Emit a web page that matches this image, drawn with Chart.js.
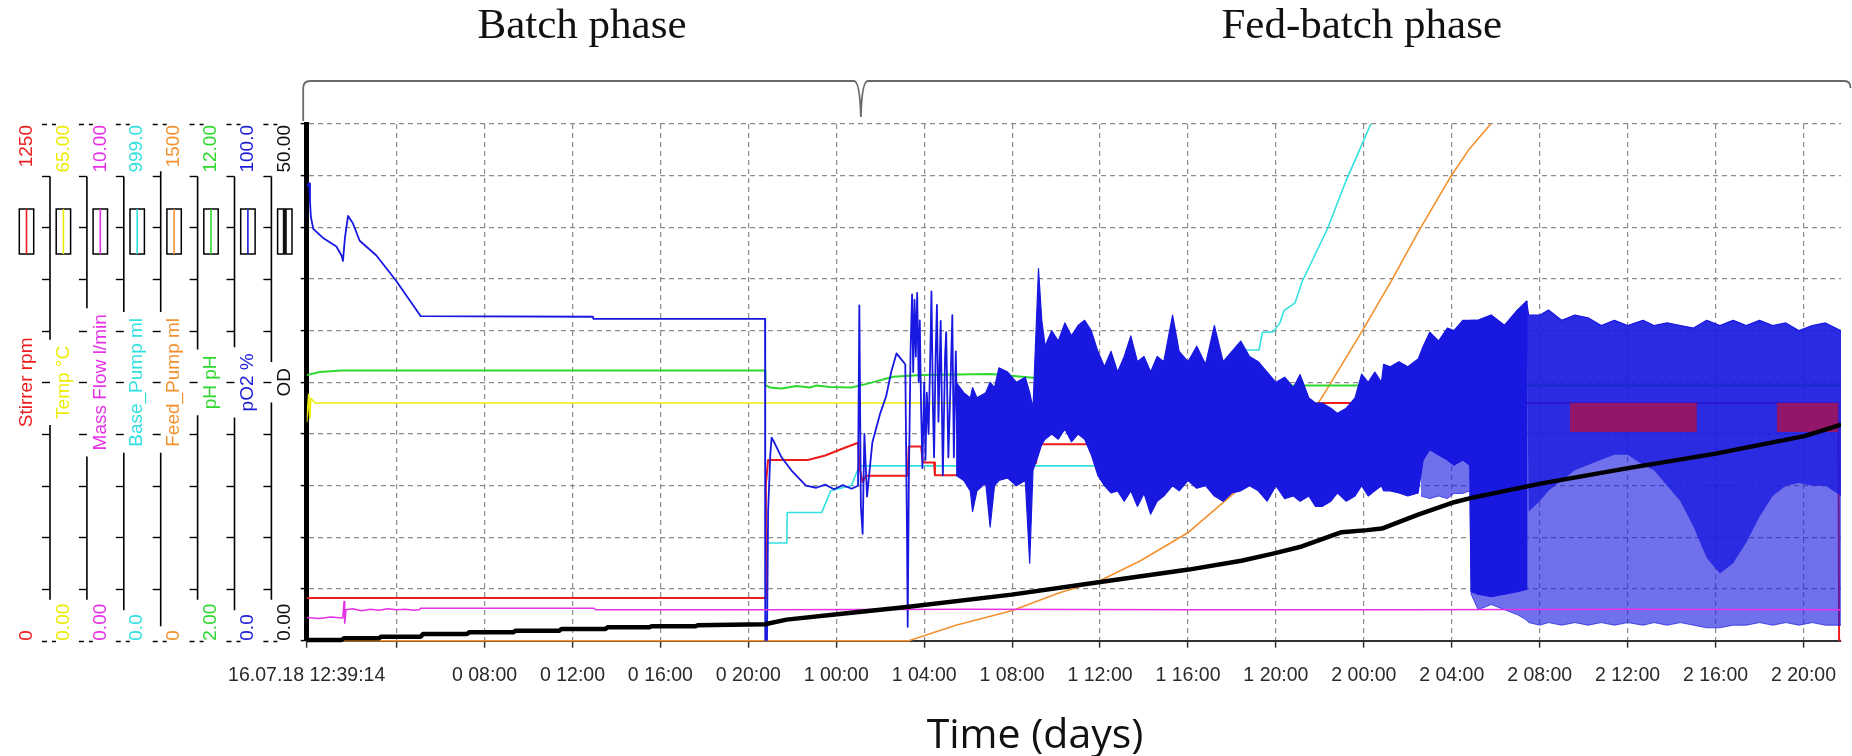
<!DOCTYPE html>
<html><head><meta charset="utf-8">
<script src="https://cdn.jsdelivr.net/npm/chart.js@4.4.1/dist/chart.umd.min.js"></script>
<style>html,body{margin:0;padding:0;background:#fff;overflow:hidden}#wrap{width:1852px;height:756px}</style>
</head><body><div id="wrap"><canvas id="c" width="1852" height="756"></canvas></div>
<script>
// ---------------- data (time in hours from start) ----------------
const xTickValues = [-0.09, 4, 8, 12, 16, 20, 24, 28, 32, 36, 40, 44, 48, 52, 56, 60, 64, 68];
const xTickLabels = ['16.07.18 12:39:14', '', '0 08:00', '0 12:00', '0 16:00', '0 20:00', '1 00:00', '1 04:00',
  '1 08:00', '1 12:00', '1 16:00', '1 20:00', '2 00:00', '2 04:00', '2 08:00', '2 12:00', '2 16:00', '2 20:00'];
const xMin = -0.09, xMax = 69.71;

const axisIds = ['yStir', 'yTemp', 'yFlow', 'yBase', 'yFeed', 'yPH', 'yPO2', 'yOD'];
const axisTitles = ['Stirrer rpm', 'Temp °C', 'Mass Flow l/min', 'Base_Pump ml', 'Feed_Pump ml', 'pH pH', 'pO2 %', 'OD'];
const axisMin = [0, 0, 0, 0, 0, 2, 0, 0];
const axisMax = [1250, 65, 10, 999, 1500, 12, 100, 50];
const axisMinLabels = ['0', '0.00', '0.00', '0.0', '0', '2.00', '0.0', '0.00'];
const axisMaxLabels = ['1250', '65.00', '10.00', '999.0', '1500', '12.00', '100.0', '50.00'];
const axisColors = ['#ee1c1c', '#ecec08', '#e632e6', '#33e0e0', '#f3912e', '#2fd82f', '#1c1cd8', '#111111'];

const phaseNames = ['Batch phase', 'Fed-batch phase'];
const phaseBounds = [-0.09, 25.12, 69.71];

// OD
const odT = [-0.09, 1.5, 1.6, 3.2, 3.3, 5.1, 5.2, 7.2, 7.3, 9.3, 9.4, 11.4, 11.5, 13.5, 13.6, 15.5, 15.6, 17.6, 17.7, 20.76,
  21.74, 24.04, 27.2, 31.98, 36.01, 40.03, 42.43, 43.87, 45.18, 46.99, 48.15, 48.82, 50.47, 52.11, 52.85, 56.03, 60.02, 64.01, 68.04, 69.71];
const odV = [0.07, 0.07, 0.23, 0.23, 0.39, 0.39, 0.65, 0.65, 0.81, 0.81, 0.97, 0.97, 1.13, 1.13, 1.3, 1.3, 1.4, 1.4, 1.5, 1.59,
  2.04, 2.55, 3.26, 4.46, 5.68, 6.88, 7.74, 8.43, 9.12, 10.5, 10.7, 10.85, 12.2, 13.4, 13.8, 15.2, 16.7, 18.1, 19.8, 20.9];

// Mass flow
const flowT = [-0.09, 0.5, 1.0, 1.55, 1.61, 1.64, 1.7, 2.0, 2.4, 2.8, 3.2, 3.6, 4.0, 4.4, 4.8, 5.03, 5.1, 12.95, 13.05, 20.8, 30, 40, 50, 60, 69.71];
const flowV = [0.45, 0.43, 0.46, 0.44, 0.76, 0.34, 0.6, 0.62, 0.58, 0.61, 0.59, 0.62, 0.6, 0.61, 0.59, 0.6, 0.63, 0.63, 0.6, 0.6, 0.61, 0.6, 0.6, 0.61, 0.6];

// Stirrer
const stirT = [-0.09, 20.76, 20.8, 20.9, 22.71, 23.5, 24.3, 25.0, 25.05, 25.2, 25.35, 27.25, 27.3, 27.86, 27.94, 28.45, 28.49,
  30.2, 30.23, 33.09, 33.17, 35.62, 40, 46, 69.59, 69.62, 69.71];
const stirV = [103, 103, 380, 437, 437, 448, 465, 479, 420, 384, 399, 399, 470, 470, 431, 431, 400,
  400, 430, 430, 475, 475, 520, 575, 575, 0, 0];
const stirBandAT = [57.38, 63.15], stirBandAV = [574, 574];
const stirBandBT = [66.78, 69.59], stirBandBV = [574, 574];
const stirBandLow = 505;

// Temp
const tempT = [-0.09, 0.0, 0.05, 0.1, 0.3, 69.71];
const tempV = [27.5, 31.0, 28.0, 30.5, 29.9, 29.9];

// pH
const phT = [-0.09, 0.5, 1.5, 20.76, 20.78, 21.0, 21.51, 22.2, 22.8, 23.1, 23.7, 24.69, 25.48, 26.59, 27.86, 31.03, 32.45, 33.4, 35.0, 69.71];
const phV = [7.14, 7.2, 7.23, 7.23, 6.94, 6.9, 6.88, 6.93, 6.9, 6.94, 6.91, 6.9, 6.98, 7.11, 7.14, 7.16, 7.11, 7.07, 6.94, 6.94];

// Base pump
const baseT = [-0.09, 20.76, 20.8, 21.75, 21.77, 23.34, 23.75, 24.69, 25.0, 25.1, 36.5, 39.0, 41.0, 42.0, 42.43, 42.55, 43.23, 43.39,
  43.87, 44.18, 44.37, 44.87, 45.19, 46.34, 47.17, 48.32, 49.0];
const baseV = [0, 0, 189, 189, 248, 248, 290, 300, 333, 338, 338, 360, 420, 470, 493, 562, 562, 596,
  597, 614, 638, 653, 694, 796, 887, 999, 1080];

// Feed pump
const feedT = [-0.09, 27.3, 29.44, 31.98, 34.19, 36.01, 37.84, 40.03, 42.11, 44.0, 45.0, 46.18, 47.99, 49.31, 50.47, 51.95, 52.77, 53.77, 54.5];
const feedV = [0, 0, 45, 87, 140, 175, 232, 315, 429, 520, 600, 715, 906, 1051, 1186, 1347, 1425, 1500, 1580];

// pO2 trace
const po2T = [-0.09, 0.02, 0.06, 0.1, 0.21, 0.64, 1.26, 1.5, 1.56, 1.65, 1.79, 1.9, 2.01, 2.32, 3.07, 3.97, 5.10, 12.93, 12.95, 20.76,
  20.77, 20.85, 20.9, 21.0, 21.06, 21.19, 21.51, 21.99, 22.62, 23.09, 23.5, 23.9, 24.3, 24.7, 24.99, 25.05, 25.12, 25.2, 25.28, 25.4,
  25.64, 26.0, 26.27, 26.5, 26.74, 26.95, 27.14, 27.22, 27.25, 27.3, 27.38, 27.45, 27.5, 27.56, 27.62, 27.68, 27.75, 27.8, 27.86, 27.92,
  28.0, 28.06, 28.12, 28.2, 28.3, 28.33, 28.4, 28.45, 28.52, 28.58, 28.65, 28.75, 28.85, 28.95, 29.0, 29.1, 29.2, 29.28, 29.35, 29.44, 29.5];
const po2V = [88, 88.5, 85, 82, 79.7, 78, 76.3, 74.5, 73.5, 78, 82.2, 81.5, 80.8, 77.4, 74.6, 69.7, 62.8, 62.7, 62.3, 62.3,
  0, 0, 25, 36, 39.3, 38.3, 35.5, 32.8, 30, 29.6, 30.2, 29.3, 30.1, 29.4, 30, 64.9, 26, 20.7, 40, 27.9,
  38.3, 44, 47.3, 52, 55.6, 54.5, 53.5, 20, 2.7, 30, 56, 67, 52, 66, 55, 67.3, 50, 62, 45, 33.4,
  50, 35, 48, 40, 60, 67.6, 45, 35.5, 55, 65, 42.4, 61.9, 32, 55, 59.7, 35.5, 50, 63, 35.5, 56, 40];

// pO2 dense oscillation envelope (max / min)
const denseT = [29.45, 29.8, 30.1, 30.2, 30.4, 30.8, 31.0, 31.2, 31.4, 31.8, 32.2, 32.6, 32.8, 32.95, 33.2, 33.35, 33.5, 33.8, 34.1, 34.4,
  34.7, 35.0, 35.3, 35.6, 35.9, 36.2, 36.5, 36.8, 37.1, 37.4, 37.7, 38.0, 38.3, 38.6, 38.9, 39.3, 39.6, 40.0, 40.4, 40.8,
  41.2, 41.6, 42.0, 42.4, 42.8, 43.2, 43.6, 44.0, 44.4, 44.8, 45.1, 45.5, 45.8, 46.1, 46.5, 46.8, 47.2, 47.6, 47.9, 48.2,
  48.5, 48.8, 48.9, 49.2, 49.6, 50.0, 50.47, 50.7, 51.0, 51.4, 51.8, 52.1, 52.5, 52.82, 52.88, 53.2, 53.8, 54.4, 55.0, 55.45];
const denseHi = [50, 48, 47, 49, 47, 48, 50, 49, 52.8, 52, 50, 51, 48, 45, 72, 62, 57, 60, 58, 61.5,
  59, 61, 62, 60, 56, 53, 56, 52, 55, 59, 54, 55, 52, 55, 54, 63, 56, 54, 57, 53.5,
  61, 54, 56, 58, 55, 54, 52, 50, 51, 49, 51.5, 47, 46, 46, 45, 44, 45, 47, 51.6, 50,
  52, 50, 53.5, 53, 54, 53, 54.5, 57, 59.7, 58, 60.5, 60, 62, 62, 62, 62, 63, 61, 64, 65.7];
const denseLo = [32, 31, 29, 25, 29, 30.5, 22, 30, 31, 31.5, 30, 31, 15, 33, 36, 38, 39, 40, 39, 41,
  38.5, 40, 39, 36, 32, 30, 28.6, 29, 27, 29, 26, 28.5, 24.5, 27, 28, 30, 29, 31, 29.5, 30,
  28, 27, 28.6, 29, 30, 29, 27, 30, 27.5, 28, 27, 28, 26, 26, 27, 28.6, 27, 28, 30, 28,
  29, 30, 29, 29, 28.6, 28, 28.6, 35, 37, 36, 35, 34, 35, 34, 9.5, 9, 8.5, 9, 9.5, 10];

// pO2 striped oscillation (outer max / outer min / inner core min)
const stripeT = [50.6, 51.0, 51.4, 51.8, 52.1, 52.5, 52.82, 52.88, 53.2, 53.8, 54.4, 55.0, 55.4, 55.5, 56.0, 56.4, 57.0, 57.6, 58.2, 58.8,
  59.4, 60.0, 60.7, 61.2, 61.8, 62.4, 63.0, 63.6, 64.2, 64.8, 65.4, 66.0, 66.6, 67.2, 67.8, 68.4, 69.0, 69.71];
const stripeHi = [35, 37, 36, 35, 34, 35, 34, 62, 62, 63, 61, 64, 65.7, 63, 63, 64, 62, 63, 62.5, 61,
  62, 61, 62, 61, 61.5, 61, 60.5, 62, 61, 62, 61, 62, 61, 61.5, 60, 61, 61.5, 60];
const stripeLo = [28, 27.5, 28, 27.5, 28.5, 28.5, 29, 9, 6, 7, 6, 5, 4, 3.5, 3, 3.5, 3, 3.5, 3, 3.5,
  3, 3.5, 3, 3.5, 3, 3.5, 3, 2.5, 2.5, 3, 3, 3.5, 3, 3.5, 3, 3.5, 3, 3];
const coreLo = [35, 37, 36, 35, 34, 35, 34, 62, 62, 63, 61, 64, 65.7, 25, 27, 29, 31, 33, 34, 35,
  36, 36, 34, 33, 30, 27, 22, 16, 13, 15, 19, 24, 28, 30, 30.5, 30, 30, 28];

// ---------------- chart ----------------
function fontAvailable(name) {
  const c = document.createElement('canvas').getContext('2d');
  const s = '0 08:00 16.07.18 abcdefghijklm';
  c.font = '40px monospace'; const a = c.measureText(s).width;
  c.font = '40px "' + name + '", monospace'; const b = c.measureText(s).width;
  return Math.abs(a - b) > 0.5;
}
const narrow = fontAvailable('Liberation Sans Narrow');
const tickFont = narrow ? { family: '"Liberation Sans Narrow", "Liberation Sans", sans-serif', size: 22 }
                        : { family: '"Liberation Sans", Arial, sans-serif', size: 19.5 };
const tickPad = narrow ? 14 : 16;

const BLUE = '#1818e0';
function ds(label, T, V, axis, color, width, extra) {
  return Object.assign({
    label, data: T.map((t, i) => ({ x: t, y: V[i] })), yAxisID: axis, xAxisID: 'x',
    borderColor: color, backgroundColor: color, borderWidth: width, fill: false, pointRadius: 0
  }, extra || {});
}

const datasets = [
  ds('OD', odT, odV, 'yOD', '#000000', 4.5, { clip: { left: 0, top: 0, right: 0, bottom: 3 } }),
  ds('Mass Flow l/min', flowT, flowV, 'yFlow', axisColors[2], 1.5),
  ds('Stirrer range A', stirBandAT, stirBandAV, 'yStir', 'rgba(165,20,85,0.85)', 1, { fill: { value: stirBandLow }, backgroundColor: 'rgba(165,20,85,0.85)' }),
  ds('Stirrer range B', stirBandBT, stirBandBV, 'yStir', 'rgba(165,20,85,0.85)', 1, { fill: { value: stirBandLow }, backgroundColor: 'rgba(165,20,85,0.85)' }),
  ds('pO2 %', po2T, po2V, 'yPO2', BLUE, 1.8),
  ds('pO2 dense max', denseT, denseHi, 'yPO2', BLUE, 1.2),
  ds('pO2 dense min', denseT, denseLo, 'yPO2', BLUE, 1.2, { fill: '-1', backgroundColor: BLUE }),
  ds('pO2 stripe max', stripeT, stripeHi, 'yPO2', BLUE, 1.2),
  ds('pO2 stripe min', stripeT, stripeLo, 'yPO2', 'rgba(24,24,224,0.7)', 1, { fill: '-1', backgroundColor: 'rgba(24,24,224,0.62)' }),
  ds('pO2 core min', stripeT, coreLo, 'yPO2', 'rgba(0,0,0,0)', 1, { fill: 7, backgroundColor: 'rgba(24,24,224,0.78)' }),
  ds('Stirrer rpm', stirT, stirV, 'yStir', axisColors[0], 2),
  ds('pH', phT, phV, 'yPH', axisColors[5], 2),
  ds('Temp', tempT, tempV, 'yTemp', axisColors[1], 1.6),
  ds('Feed_Pump ml', feedT, feedV, 'yFeed', axisColors[4], 1.6, { clip: { left: 0, top: 0, right: 0, bottom: 2 } }),
  ds('Base_Pump ml', baseT, baseV, 'yBase', axisColors[3], 1.6)
];

const LABEL_FONT = '19px "Liberation Sans", Arial, sans-serif';
function vtext(ctx, txt, x, y, align) {
  ctx.save(); ctx.translate(x, y); ctx.rotate(-Math.PI / 2);
  ctx.textAlign = align; ctx.textBaseline = 'middle'; ctx.fillText(txt, 0, 0); ctx.restore();
}

const leftPanel = {
  id: 'leftPanel',
  afterDraw(chart) {
    const ctx = chart.ctx, top = chart.chartArea.top, bottom = chart.chartArea.bottom, mid = (top + bottom) / 2;
    ctx.save();
    ctx.font = LABEL_FONT;
    for (let i = 0; i < axisIds.length; i++) {
      const lx = 26.5 + i * 36.9, ax = lx + 23.5;
      const sc = chart.scales[axisIds[i]];
      if (i < axisIds.length - 1) {
        const n = i + 1;
        const wTop = ctx.measureText(axisMaxLabels[n]).width;
        const wT = ctx.measureText(axisTitles[n]).width;
        const wB = ctx.measureText(axisMinLabels[n]).width;
        ctx.strokeStyle = '#000'; ctx.lineWidth = 1.6; ctx.setLineDash([]);
        ctx.beginPath();
        ctx.moveTo(ax, top + wTop + 5); ctx.lineTo(ax, mid - wT / 2 - 6);
        ctx.moveTo(ax, mid + wT / 2 + 6); ctx.lineTo(ax, bottom - wB - 4);
        ctx.stroke();
        ctx.lineWidth = 1.4;
        for (let k = 0; k <= 10; k++) {
          const y = Math.round(sc.getPixelForValue(axisMin[i] + k * (axisMax[i] - axisMin[i]) / 10)) + 0.5;
          ctx.beginPath();
          if (k === 0 || k === 10) {
            ctx.moveTo(ax - 8, y); ctx.lineTo(ax - 3, y);
            ctx.moveTo(ax + 2, y); ctx.lineTo(ax + 6, y);
          } else {
            ctx.moveTo(ax - 8, y); ctx.lineTo(ax, y);
          }
          ctx.stroke();
        }
      }
      // legend swatch
      ctx.strokeStyle = '#000'; ctx.lineWidth = 1.5;
      ctx.strokeRect(lx - 7.2, top + 85, 14.4, 45);
      ctx.strokeStyle = axisColors[i]; ctx.lineWidth = i === axisIds.length - 1 ? 4 : 1.6;
      ctx.beginPath(); ctx.moveTo(lx, top + 85); ctx.lineTo(lx, top + 130); ctx.stroke();
      // texts
      ctx.fillStyle = axisColors[i];
      vtext(ctx, axisMaxLabels[i], lx, top + 1, 'right');
      vtext(ctx, axisMinLabels[i], lx, bottom, 'left');
      vtext(ctx, axisTitles[i], lx, mid, 'center');
    }
    ctx.restore();
  }
};

const annot = {
  id: 'annot',
  afterDraw(chart) {
    const ctx = chart.ctx, xs = chart.scales.x;
    ctx.save();
    const yL = 81;
    const xL = xs.getPixelForValue(phaseBounds[0]) - 3.5;
    const xT = xs.getPixelForValue(phaseBounds[1]);
    const xR = chart.width - 1.5;
    ctx.strokeStyle = '#6a6a6a'; ctx.lineWidth = 1.8;
    ctx.beginPath();
    ctx.moveTo(xL, 121); ctx.lineTo(xL, 88); ctx.quadraticCurveTo(xL, yL, xL + 7, yL);
    ctx.lineTo(xT - 7, yL); ctx.quadraticCurveTo(xT - 1, yL, xT, 117);
    ctx.quadraticCurveTo(xT + 1, yL, xT + 7, yL);
    ctx.lineTo(xR - 6, yL); ctx.quadraticCurveTo(xR, yL, xR, 88);
    ctx.stroke();
    ctx.fillStyle = '#111';
    ctx.font = '43px "Liberation Serif", "Times New Roman", serif';
    ctx.textAlign = 'center'; ctx.textBaseline = 'alphabetic';
    ctx.fillText(phaseNames[0], (xL + xT) / 2, 38);
    ctx.fillText(phaseNames[1], (xT + xR) / 2 + 6, 38);
    ctx.font = '41px "Open Sans", "Liberation Sans", sans-serif';
    ctx.fillText('Time (days)', 1035, 748);
    ctx.restore();
  }
};

const scales = {
  x: {
    type: 'linear', position: 'bottom', min: xMin, max: xMax,
    afterBuildTicks: s => { s.ticks = xTickValues.map(v => ({ value: v })); },
    afterFit: s => { s.height = 115.3; },
    ticks: { autoSkip: false, maxRotation: 0, minRotation: 0, padding: tickPad, color: '#2a2a2a', font: tickFont,
      callback: (v, i) => xTickLabels[i] },
    grid: { color: c => (c.index === 0 ? 'rgba(0,0,0,0)' : '#8c8c8c'), lineWidth: 1.2, tickLength: 7,
      tickColor: '#333', tickWidth: 1.5, tickBorderDash: [] },
    border: { color: '#333', width: 2, dash: [5, 4] }
  },
  yOD: {
    type: 'linear', position: 'left', min: 0, max: 50,
    afterFit: s => { s.width = 306.7; },
    ticks: { display: false, stepSize: 5 },
    grid: { color: c => (c.tick && c.tick.value === 0 ? 'rgba(0,0,0,0)' : '#8c8c8c'), lineWidth: 1.2, tickLength: 6,
      tickColor: '#000', tickWidth: 1.5, tickBorderDash: [] },
    border: { color: '#000', width: 5, dash: [5, 4] }
  }
};
for (let i = 0; i < axisIds.length - 1; i++) {
  scales[axisIds[i]] = { type: 'linear', display: false, min: axisMin[i], max: axisMax[i] };
}

new Chart(document.getElementById('c').getContext('2d'), {
  type: 'line',
  data: { datasets },
  options: {
    responsive: false, animation: false, devicePixelRatio: 1,
    layout: { padding: { top: 124, left: 0, right: 0, bottom: 0 } },
    plugins: { legend: { display: false }, tooltip: { enabled: false }, title: { display: false } },
    elements: { point: { radius: 0 }, line: { tension: 0, borderJoinStyle: 'round' } },
    scales
  },
  plugins: [leftPanel, annot]
});
</script>
</body></html>
